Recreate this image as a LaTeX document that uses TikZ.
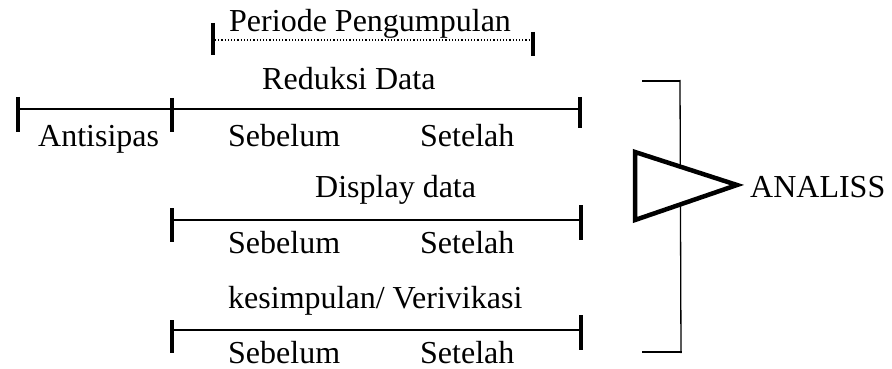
\documentclass[tikz,border=0pt]{standalone}
\usepackage{fontspec}
\setmainfont{Liberation Serif}
\begin{document}
\begin{tikzpicture}[x=1pt,y=-1pt,
  lbl/.style={anchor=base west,inner sep=0pt,font=\fontsize{32}{38}\selectfont},
  tick/.style={line width=4pt},
  hline/.style={line width=2pt},
  thin/.style={line width=1.3pt}]
\useasboundingbox (0,0) rectangle (892,369);
% Periode Pengumpulan
\draw[tick] (213,23) -- (213,55);
\draw[tick] (533,32) -- (533,56);
\draw[line width=1.2pt,dotted] (215,40) -- (531,40);
\node[lbl] (per) at (229,32) {Periode Pengumpulan};
% Reduksi data
\node[lbl] (red) at (262,90) {Reduksi Data};
\draw[tick] (18,97) -- (18,132);
\draw[tick] (172,98) -- (172,132);
\draw[tick] (580,97) -- (580,128);
\draw[hline] (18,109) -- (580,109);
\node[lbl] (ant) at (38,146) {Antisipas};
\node[lbl] (s1a) at (228,146) {Sebelum};
\node[lbl] (s1b) at (420,146) {Setelah};
% Display data
\node[lbl] (dis) at (315,197) {Display data};
\draw[tick] (172,208) -- (172,242);
\draw[tick] (581,205) -- (581,240);
\draw[hline] (172,220) -- (581,220);
\node[lbl] (s2a) at (228,253) {Sebelum};
\node[lbl] (s2b) at (420,253) {Setelah};
% Kesimpulan
\node[lbl] (kes) at (228,308) {kesimpulan/ Verivikasi};
\draw[tick] (172,320) -- (172,353);
\draw[tick] (581,315) -- (581,350);
\draw[hline] (172,330) -- (581,330);
\node[lbl] (s3a) at (228,363) {Sebelum};
\node[lbl] (s3b) at (420,363) {Setelah};
% Bracket
\draw[line width=2.5pt] (642,81) -- (680,81);
\draw[line width=2.5pt] (642,352) -- (682,352);
\draw[thin] (680,80) -- (681,353);
% Triangle
\draw[line width=4.5pt,fill=white,line join=miter] (635,152) -- (737,185) -- (635,220) -- cycle;
\node[lbl] (ana) at (750,197) {ANALISS};
\end{tikzpicture}
\end{document}
